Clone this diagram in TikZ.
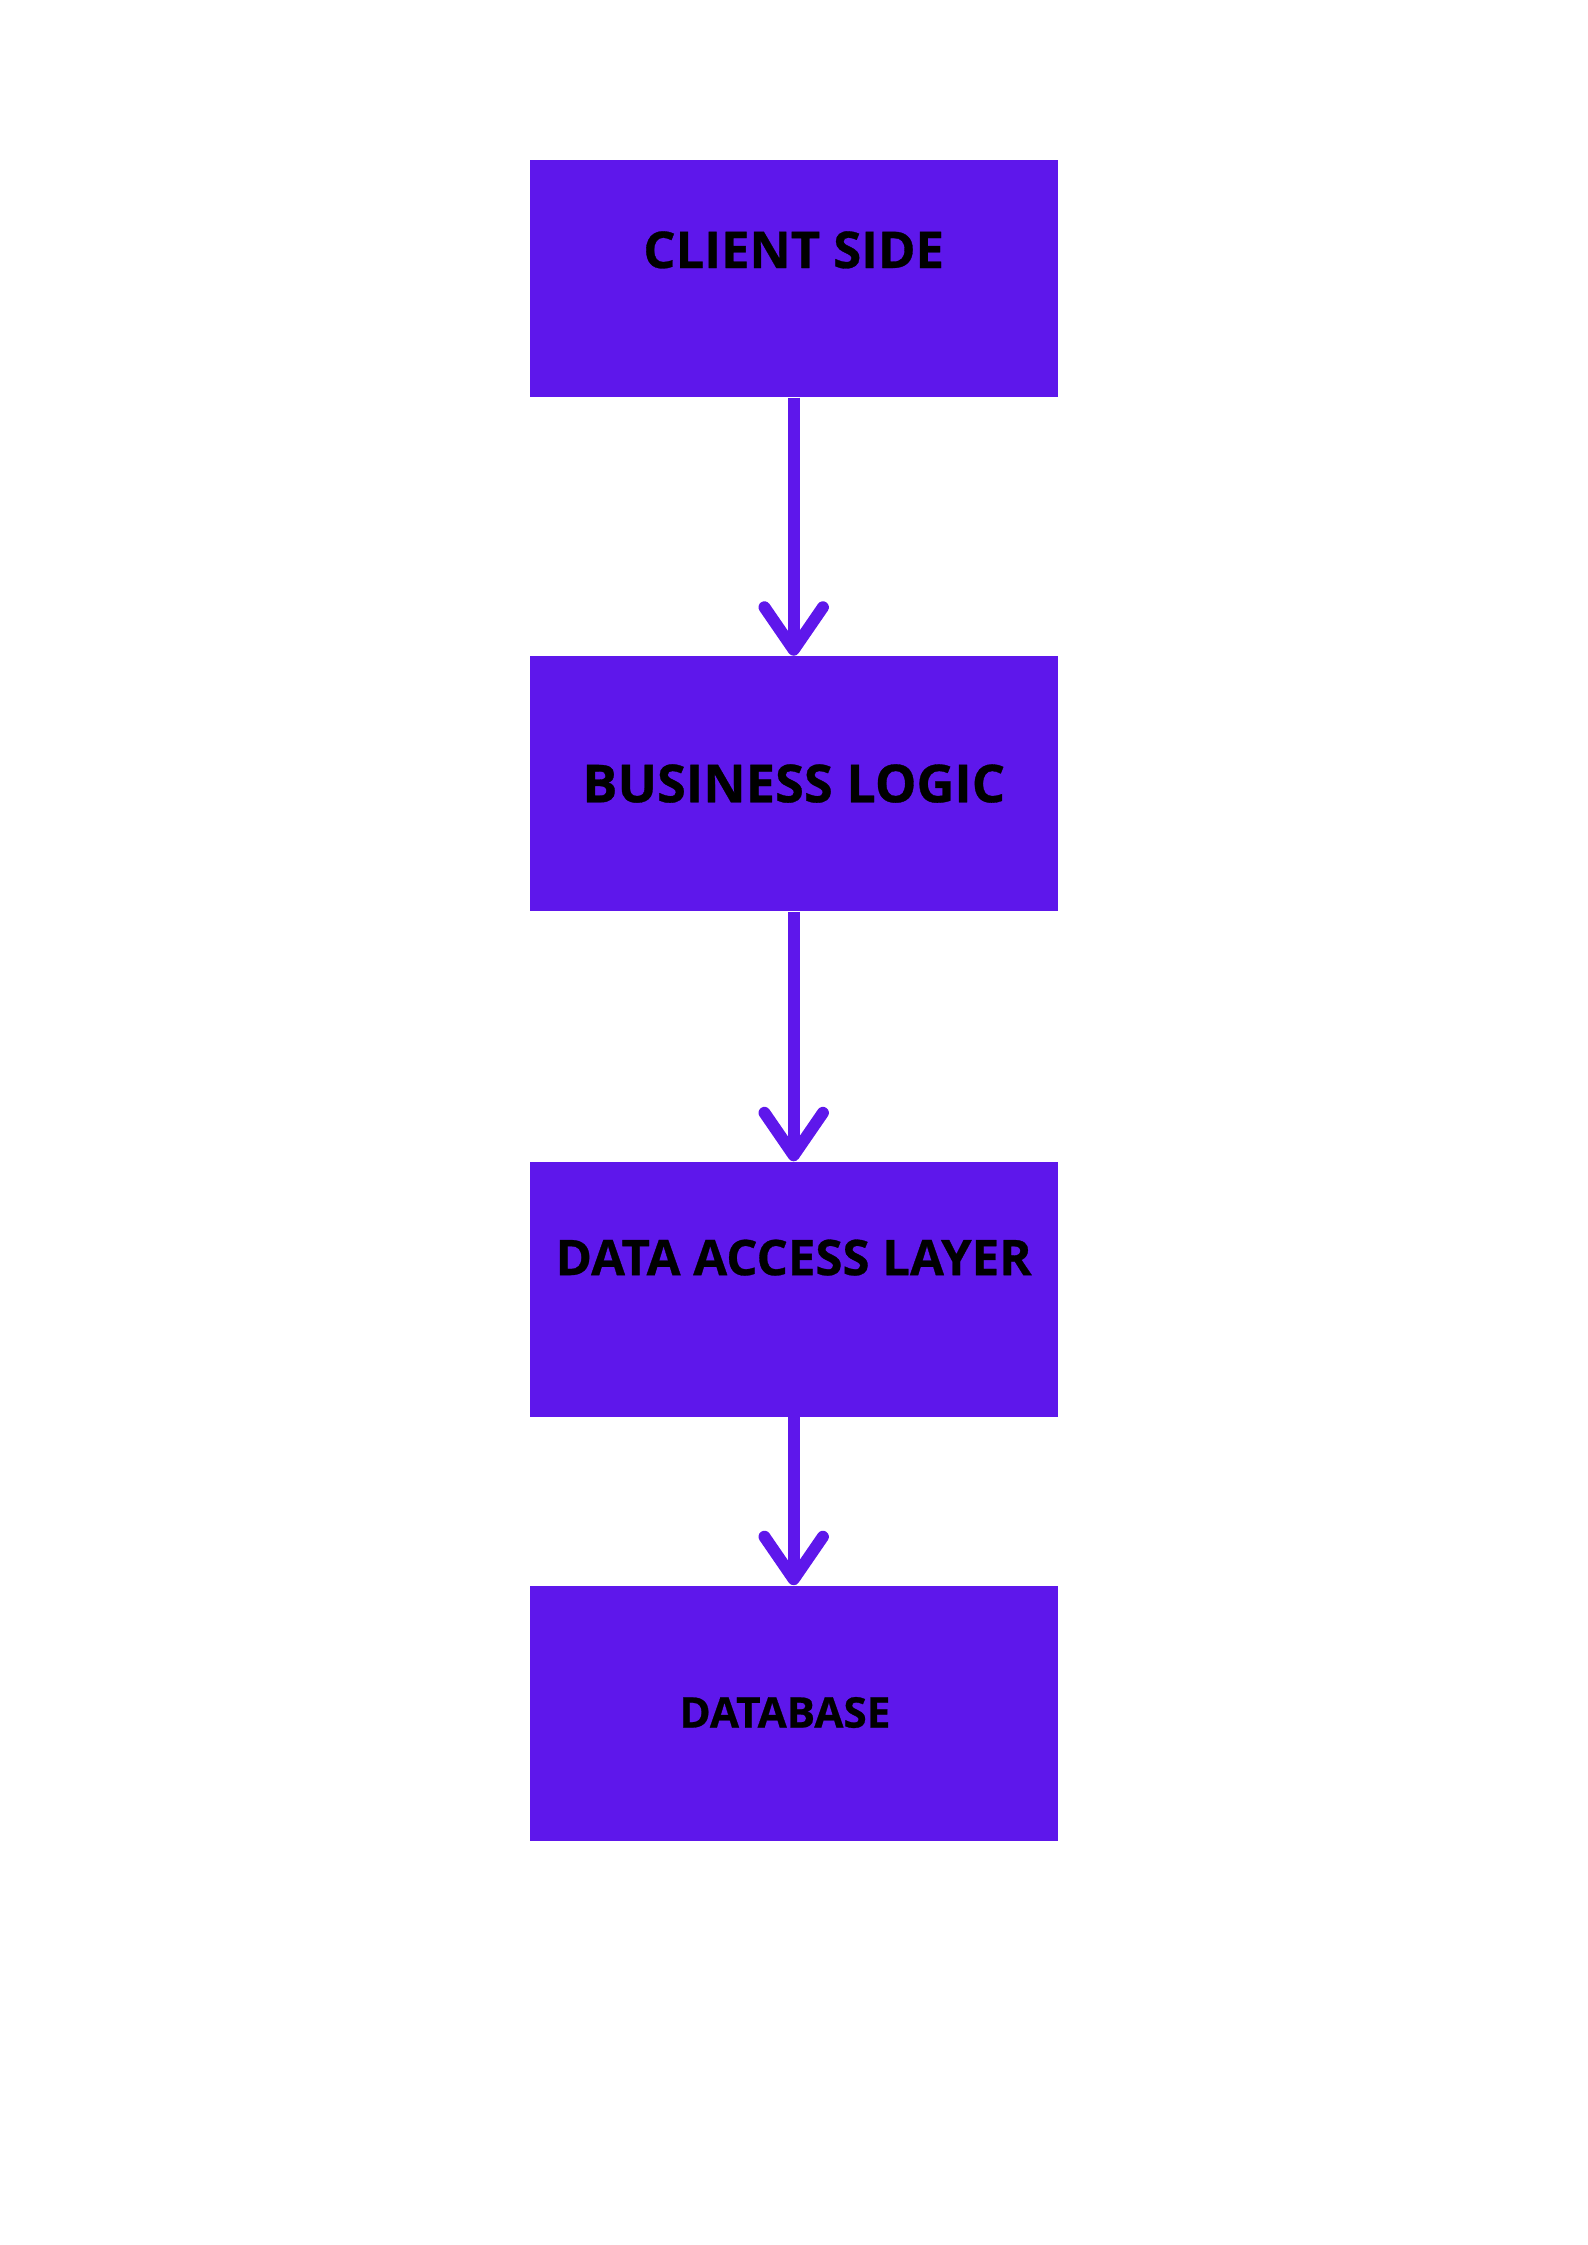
\documentclass[tikz,border=0pt]{standalone}
\usepackage{fontspec}
\setmainfont{Open Sans}[BoldFeatures={FakeBold=0.6}]
\usetikzlibrary{positioning,arrows.meta}
\definecolor{layerviolet}{HTML}{5E17EB}

\begin{document}
\begin{tikzpicture}[
    layer/.style={fill=layerviolet, text=black, inner sep=0pt,
        minimum width=6.99cm, minimum height=3.374cm,
        font=\bfseries\fontsize{19.4}{23}\selectfont},
    flow/.style={draw=layerviolet, line width=4.5pt,
        -{Straight Barb[length=16pt, width=22pt, round]}},
]
    \useasboundingbox (0,0) rectangle (21,-29.7);

    \node [layer, anchor=north, minimum height=3.136cm,
        font=\bfseries\fontsize{19.1}{23}\selectfont,
        text height=13.8pt, text depth=21.8pt] (client) at (10.50,-2.111) {CLIENT SIDE};
    \node [layer, below=3.414cm of client, font=\bfseries\fontsize{19.7}{23}\selectfont,
        text height=13.9pt, text depth=0pt] (logic) {BUSINESS LOGIC};
    \node [layer, below=3.30cm of logic, font=\bfseries\fontsize{18.5}{22}\selectfont,
        text height=12.9pt, text depth=23.6pt] (access) {DATA ACCESS LAYER};
    \node [layer, below=2.22cm of access, font=\bfseries\fontsize{15.9}{18}\selectfont,
        text height=10.8pt, text depth=0pt] (db) {DATABASE\hspace{6.6pt}\null};

    % layers, top to bottom
    \draw [flow] (client) -- (logic);
    \draw [flow] (logic) -- (access);
    \draw [flow] (access) -- (db);
\end{tikzpicture}
\end{document}
